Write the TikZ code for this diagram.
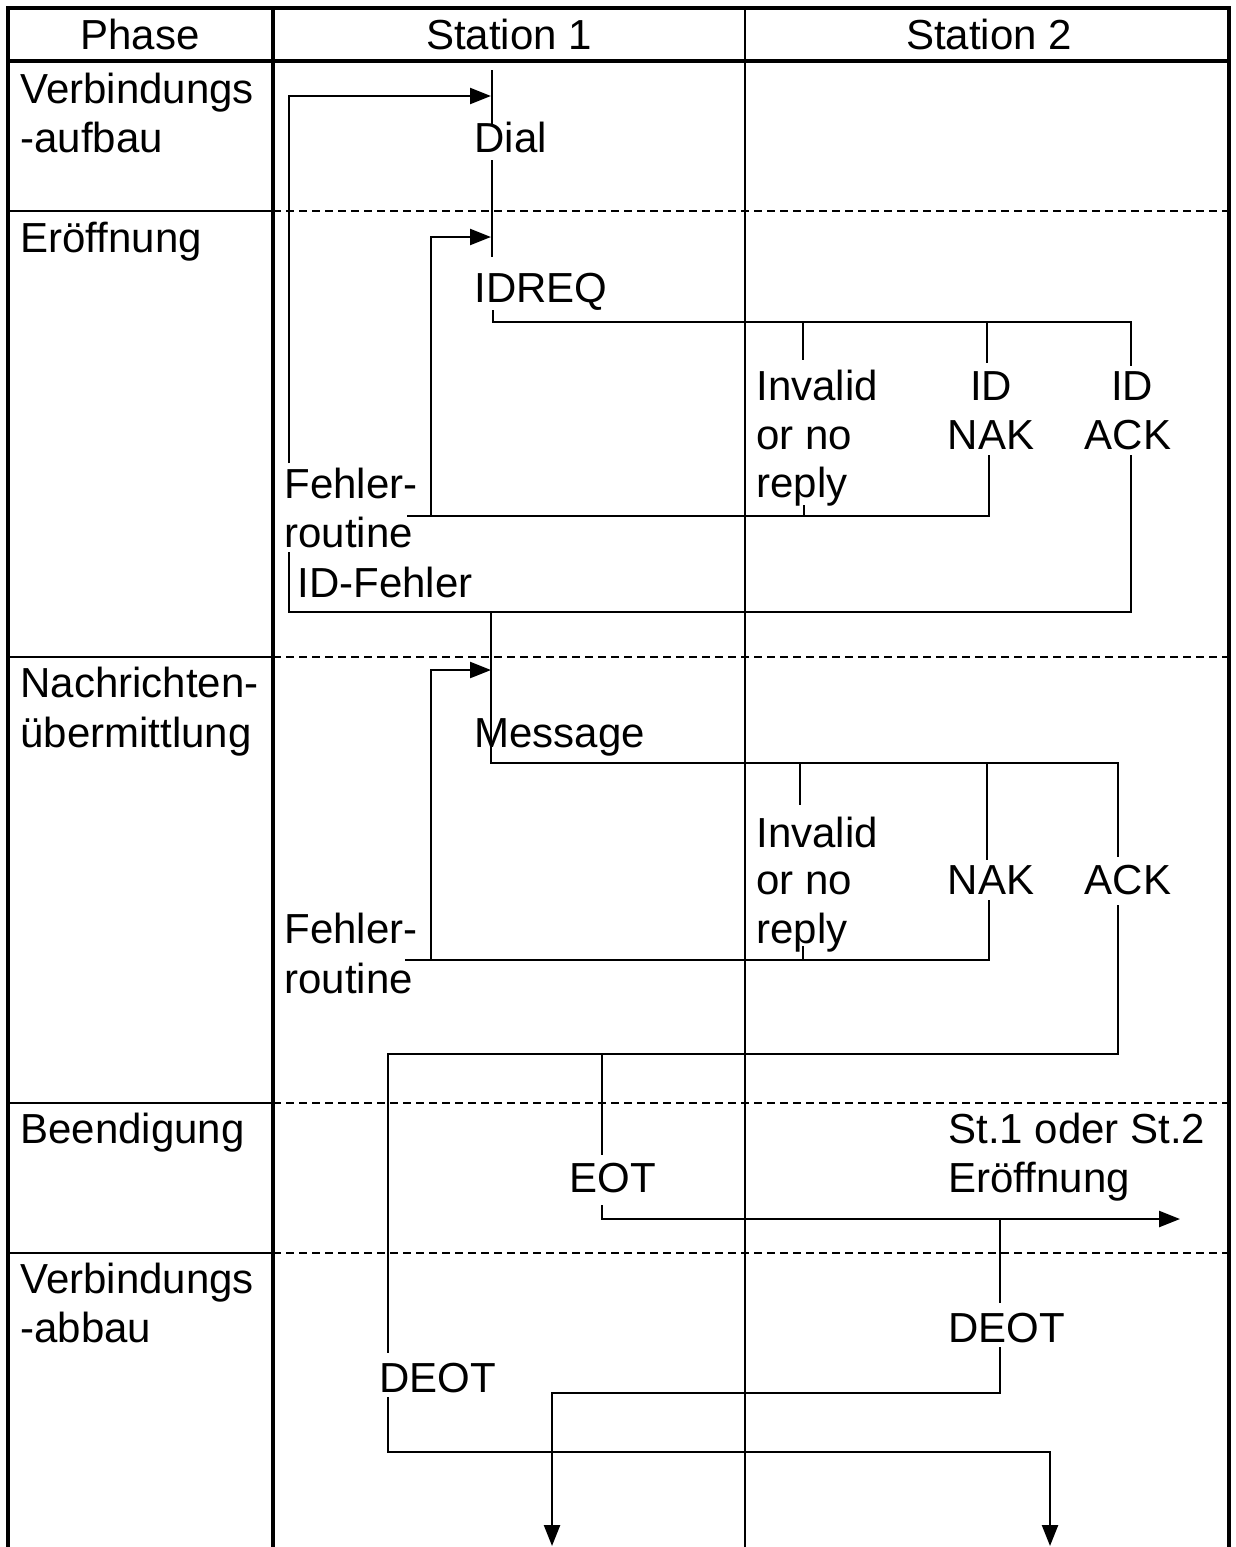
\documentclass[tikz,border=0pt]{standalone}
\usepackage{fontspec}
\setmainfont{Liberation Sans}
\usetikzlibrary{arrows.meta}
\newcommand\diafont{\fontsize{21}{25}\selectfont}
\begin{document}
\begin{tikzpicture}[x=0.5pt,y=-0.5pt,
  frame/.style={line width=1.9pt},
  sepline/.style={line width=1.2pt},
  dsep/.style={line width=1.2pt,dash pattern=on 4pt off 2.5pt},
  conn/.style={line width=1.2pt},
  arr/.style={conn,-{Triangle[length=10.5pt,width=8pt]}},
  lbl/.style={anchor=base west,inner sep=0pt,font=\diafont},
  clbl/.style={anchor=base,inner sep=0pt,font=\diafont}]
\useasboundingbox (0,0) rectangle (1236,1547);
% frame
\coordinate (tl) at (8,8);
\coordinate (tr) at (1229,8);
\coordinate (bl) at (8,1552);
\coordinate (br) at (1229,1552);
\coordinate (hl) at (8,61);
\coordinate (hr) at (1229,61);
\coordinate (pt) at (273,8);
\coordinate (pb) at (273,1552);
\coordinate (st) at (745,8);
\coordinate (sb) at (745,1552);
\draw[frame] (bl) -- (tl) -- (tr) -- (br);
\draw[frame] (hl) -- (hr);
\draw[frame] (pt) -- (pb);
\draw[sepline] (st) -- (sb);
\foreach \yy in {211,657,1103,1253}{
  \draw[sepline] (8,\yy) -- (273,\yy);
  \draw[dsep] (273,\yy) -- (1229,\yy);
}
% header
\node[clbl] (hph) at (140,49) {Phase};
\node[clbl] (hs1) at (509,49) {Station 1};
\node[clbl] (hs2) at (989,49) {Station 2};
% phase labels
\node[lbl] (p1a) at (20,103) {Verbindungs};
\node[lbl] (p1b) at (20,152) {-aufbau};
\node[lbl] (p2a) at (20,252) {Eröffnung};
\node[lbl] (p3a) at (20,697) {Nachrichten-};
\node[lbl] (p3b) at (20,747) {übermittlung};
\node[lbl] (p4a) at (20,1143) {Beendigung};
\node[lbl] (p5a) at (20,1293) {Verbindungs};
\node[lbl] (p5b) at (20,1342) {-abbau};
% station labels
\node[lbl] (dial) at (474,152) {Dial};
\node[lbl] (idreq) at (474,302) {IDREQ};
\node[lbl] (msg) at (474,747) {Message};
\node[lbl] (inv1a) at (756,400) {Invalid};
\node[lbl] (inv1b) at (756,449) {or no};
\node[lbl] (inv1c) at (756,497) {reply};
\node[clbl] (nak1a) at (991,400) {ID};
\node[clbl] (nak1b) at (991,449) {NAK};
\node[clbl] (ack1a) at (1132,400) {ID};
\node[clbl] (ack1b) at (1128,449) {ACK};
\node[lbl] (fr1a) at (284,498) {Fehler-};
\node[lbl] (fr1b) at (284,547) {routine};
\node[lbl] (idf) at (297,597) {ID-Fehler};
\node[lbl] (inv2a) at (756,847) {Invalid};
\node[lbl] (inv2b) at (756,894) {or no};
\node[lbl] (inv2c) at (756,943) {reply};
\node[clbl] (nak2) at (991,894) {NAK};
\node[clbl] (ack2) at (1128,894) {ACK};
\node[lbl] (fr2a) at (284,943) {Fehler-};
\node[lbl] (fr2b) at (284,993) {routine};
\node[lbl] (eot) at (569,1192) {EOT};
\node[lbl] (sta) at (948,1143) {St.1 oder St.2};
\node[lbl] (stb) at (948,1192) {Eröffnung};
\node[lbl] (deot2) at (948,1342) {DEOT};
\node[lbl] (deot1) at (379,1392) {DEOT};
% connector points
\coordinate (f1top) at (289,463);
\coordinate (dialin) at (491,96);
\coordinate (s1a) at (492,70);
\coordinate (s1b) at (492,125);
\coordinate (s1c) at (492,160);
\coordinate (s1d) at (492,257);
\coordinate (idrqin) at (491,237);
\coordinate (idrqa) at (493,310);
\coordinate (idrqb) at (493,322);
\coordinate (idrqc) at (1131,322);
\coordinate (b1i) at (803,322);
\coordinate (b1ie) at (803,360);
\coordinate (b1n) at (987,322);
\coordinate (b1ne) at (987,363);
\coordinate (b1ae) at (1131,366);
\coordinate (n1a) at (989,455);
\coordinate (n1b) at (989,516);
\coordinate (n1c) at (407,516);
\coordinate (t1a) at (804,505);
\coordinate (t1b) at (804,516);
\coordinate (l1a) at (431,516);
\coordinate (a1a) at (1131,455);
\coordinate (a1b) at (1131,612);
\coordinate (a1c) at (289,612);
\coordinate (a1d) at (289,552);
\coordinate (m0) at (491,612);
\coordinate (m1) at (491,763);
\coordinate (m2) at (1118,763);
\coordinate (msgin) at (491,670);
\coordinate (l2a) at (431,960);
\coordinate (b2i) at (800,763);
\coordinate (b2ie) at (800,805);
\coordinate (b2n) at (987,763);
\coordinate (b2ne) at (987,860);
\coordinate (b2ae) at (1118,857);
\coordinate (n2a) at (989,900);
\coordinate (n2b) at (989,960);
\coordinate (n2c) at (405,960);
\coordinate (t2a) at (803,946);
\coordinate (t2b) at (803,960);
\coordinate (a2a) at (1118,905);
\coordinate (a2b) at (1118,1054);
\coordinate (a2c) at (388,1054);
\coordinate (a2d) at (388,1353);
\coordinate (e1) at (602,1054);
\coordinate (e2) at (602,1155);
\coordinate (e3) at (602,1205);
\coordinate (e4) at (602,1219);
\coordinate (eout) at (1180,1219);
\coordinate (d2a) at (1000,1219);
\coordinate (d2b) at (1000,1303);
\coordinate (d2c) at (1000,1347);
\coordinate (d2d) at (1000,1393);
\coordinate (d2e) at (552,1393);
\coordinate (d2f) at (552,1546);
\coordinate (d1a) at (388,1397);
\coordinate (d1b) at (388,1452);
\coordinate (d1c) at (1050,1452);
\coordinate (d1d) at (1050,1546);
% connectors
\draw[arr] (f1top) |- (dialin);
\draw[conn] (s1a) -- (s1b);
\draw[conn] (s1c) -- (s1d);
\draw[arr] (l1a) |- (idrqin);
\draw[conn] (idrqa) -- (idrqb) -- (idrqc) -- (b1ae);
\draw[conn] (b1i) -- (b1ie);
\draw[conn] (b1n) -- (b1ne);
\draw[conn] (n1a) -- (n1b) -- (n1c);
\draw[conn] (t1a) -- (t1b);
\draw[conn] (a1a) -- (a1b) -- (a1c) -- (a1d);
\draw[conn] (m0) -- (m1) -- (m2) -- (b2ae);
\draw[arr] (l2a) |- (msgin);
\draw[conn] (b2i) -- (b2ie);
\draw[conn] (b2n) -- (b2ne);
\draw[conn] (n2a) -- (n2b) -- (n2c);
\draw[conn] (t2a) -- (t2b);
\draw[conn] (a2a) -- (a2b) -- (a2c) -- (a2d);
\draw[conn] (e1) -- (e2);
\draw[arr] (e3) -- (e4) -- (eout);
\draw[conn] (d2a) -- (d2b);
\draw[arr] (d2c) -- (d2d) -- (d2e) -- (d2f);
\draw[arr] (d1a) -- (d1b) -- (d1c) -- (d1d);
\end{tikzpicture}
\end{document}
